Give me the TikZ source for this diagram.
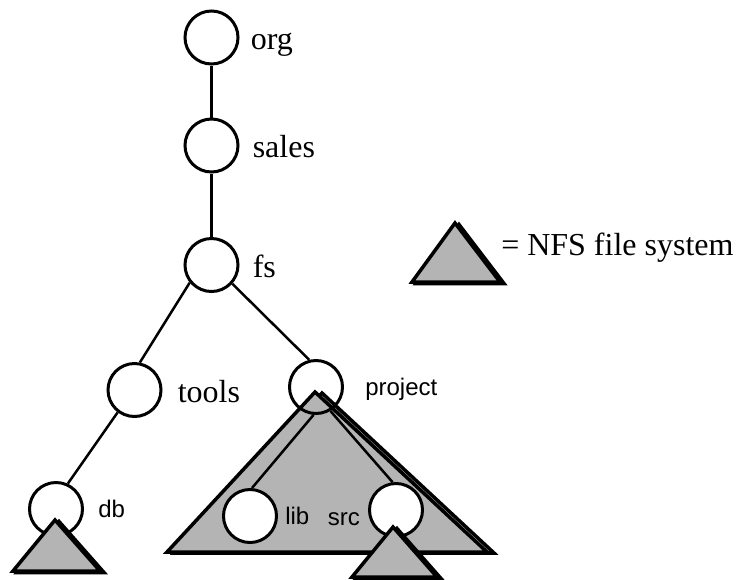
\documentclass[tikz,border=0pt]{standalone}
\usepackage{fontspec}
\setmainfont{Liberation Serif}
\setsansfont{Liberation Sans}
\usetikzlibrary{positioning}
\definecolor{nfs-fill}{HTML}{B4B4B4}

\begin{document}
\begin{tikzpicture}[
    x=1pt, y=-1pt,
    line width=2.5pt,
    line join=miter
  ]

  \tikzset{
    dir/.style={circle, draw, line width=3pt, inner sep=0pt, minimum size=53pt},
    serif/.style={font=\fontsize{32}{32}\selectfont\rmfamily, inner sep=0pt, text height=24pt, text depth=0pt},
    sans/.style={font=\fontsize{24}{24}\selectfont\sffamily, inner sep=0pt, text height=16pt, text depth=0pt},
    nfs/.style={draw, fill=nfs-fill, line width=3.5pt},
    nfsshadow/.style={nfs, shift={(4,1.5)}}
  }

  \useasboundingbox (0,0) rectangle (736,579);

  % Exported file system under project (drawn first, circle stays on top)
  \draw[nfs, shift={(7,1)}] (315,392) -- (487,552) -- (167,552) -- cycle;
  \draw[nfs] (315,392) -- (487,552) -- (167,552) -- cycle;

  % Directory nodes
  \node (org)     [dir] at (211.5,37.5) {};
  \node (sales)   [dir] at (211.5,145.5) {};
  \node (fs)      [dir] at (211.5,265) {};
  \node (tools)   [dir] at (134.5,390) {};
  \node (project) [dir] at (316,387) {};
  \node (db)      [dir, fill=white] at (56,509) {};
  \node (lib)     [dir, fill=white] at (250,516) {};
  \node (src)     [dir, fill=white] at (396,510) {};

  % Labels
  \node (org-l)     [serif, right=10pt of org]     {org};
  \node (sales-l)   [serif, right=12pt of sales]   {sales};
  \node (fs-l)      [serif, right=12pt of fs]      {fs};
  \node (tools-l)   [serif, right=14pt of tools]   {tools};
  \node (project-l) [sans, right=20pt of project]  {project};
  \node (db-l)      [sans, right=13pt of db]       {db};
  \node (lib-l)     [sans, right=6pt of lib]       {lib};
  \node (src-l)     [sans, left=7pt of src, yshift=-7pt] {src};

  % Tree connections
  \draw (org) -- (sales);
  \draw (sales) -- (fs);
  \draw (fs.219) -- (tools.79);
  \draw (fs.318) -- (project.104);
  \draw (tools.233) -- (db.65);
  \draw (project.265) -- (lib.86);
  \draw (project.301) -- (src.97);

  % Exported file systems under db and src
  \draw[nfsshadow] (55,520) -- (100,571) -- (13,571) -- cycle;
  \draw[nfs] (55,520) -- (100,571) -- (13,571) -- cycle;
  \draw[nfsshadow] (393,527) -- (437,577) -- (352,577) -- cycle;
  \draw[nfs] (393,527) -- (437,577) -- (352,577) -- cycle;

  % Legend
  \draw[nfsshadow] (455,223) -- (500,282) -- (412,282) -- cycle;
  \draw[nfs] (455,223) -- (500,282) -- (412,282) -- cycle;
  \node (legend) [serif, anchor=west] at (500,243) {= NFS file system};

\end{tikzpicture}
\end{document}
